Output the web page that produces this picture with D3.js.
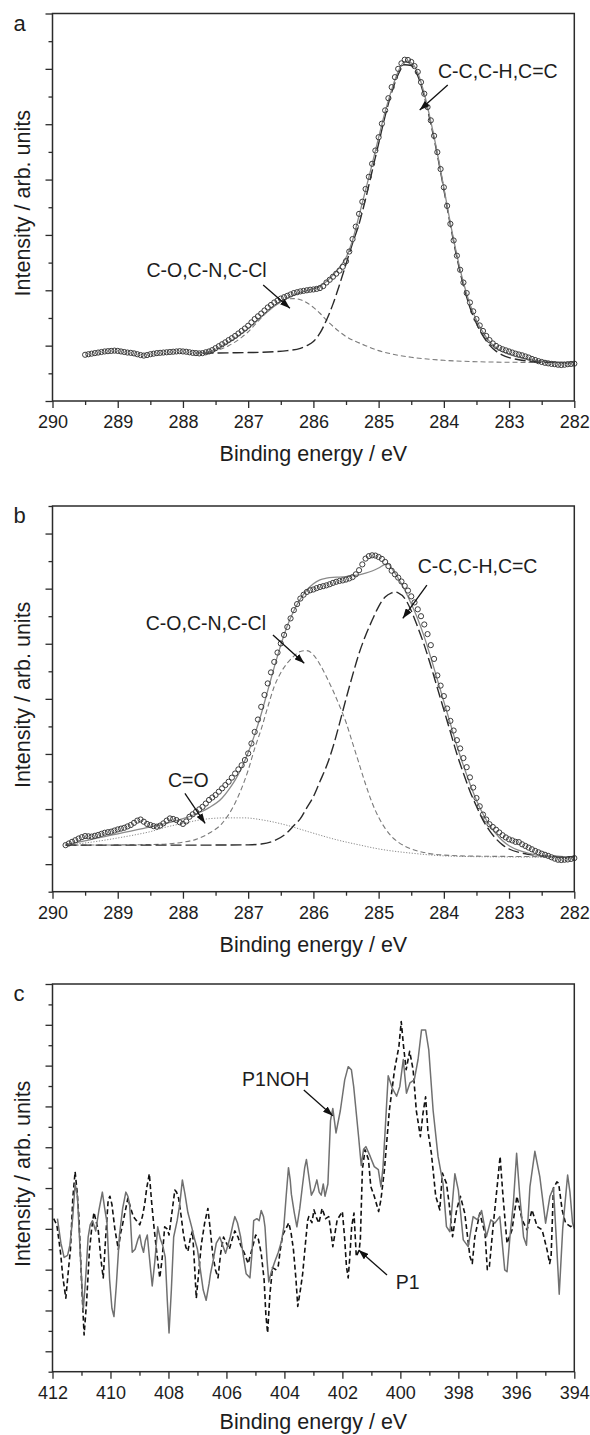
<!DOCTYPE html>
<html>
<head>
<meta charset="utf-8">
<script src="https://cdn.jsdelivr.net/npm/d3@7"></script>
<style>
  html, body { margin: 0; padding: 0; background: #fff; }
  svg { display: block; }
</style>
</head>
<body>
<svg id="fig" width="590" height="1435"></svg>
<script>
// ---------------- C 1s spectrum, sample a (measured points on a 0.05 eV grid) ----------------
const aScanStart = 289.5, aScanStep = 0.05;
const aScan = [
  1.67, 1.69, 1.71, 1.73, 1.75, 1.77, 1.79, 1.80, 1.81, 1.82,
  1.81, 1.79, 1.77, 1.75, 1.74, 1.72, 1.69, 1.66, 1.64, 1.66,
  1.69, 1.71, 1.73, 1.74, 1.75, 1.76, 1.77, 1.78, 1.79, 1.80,
  1.79, 1.78, 1.76, 1.74, 1.73, 1.72, 1.73, 1.76, 1.79, 1.84,
  1.91, 1.98, 2.05, 2.12, 2.20, 2.27, 2.35, 2.44, 2.53, 2.62,
  2.72, 2.84, 2.96, 3.06, 3.16, 3.27, 3.38, 3.47, 3.56, 3.63,
  3.70, 3.75, 3.80, 3.85, 3.90, 3.93, 3.96, 3.98, 4.00, 4.02,
  4.03, 4.05, 4.08, 4.15, 4.28, 4.38, 4.49, 4.60, 4.71, 4.85,
  5.05, 5.40, 5.85, 6.30, 6.76, 7.20, 7.66, 8.10, 8.57, 9.05,
  9.53, 10.02, 10.50, 10.94, 11.34, 11.70, 12.00, 12.20, 12.33, 12.32,
  12.25, 12.10, 11.89, 11.52, 11.10, 10.62, 10.14, 9.58, 8.99, 8.38,
  7.72, 7.05, 6.40, 5.80, 5.25, 4.74, 4.28, 3.90, 3.56, 3.24,
  2.96, 2.73, 2.53, 2.35, 2.20, 2.08, 1.99, 1.92, 1.87, 1.83,
  1.79, 1.75, 1.71, 1.68, 1.65, 1.61, 1.57, 1.52, 1.48, 1.44,
  1.41, 1.38, 1.36, 1.34, 1.33, 1.31, 1.30, 1.31, 1.33, 1.34,
  1.35
];
// fitted envelope and components, [binding energy, intensity]
const aEnvelope = [
  [287.7,1.73],[287.6,1.78],[287.5,1.87],[287.4,1.99],[287.3,2.12],[287.2,2.27],[287.1,2.44],[287.0,2.62],
  [286.9,2.82],[286.8,3.03],[286.7,3.23],[286.6,3.42],[286.5,3.58],[286.4,3.72],[286.3,3.83],[286.2,3.92],
  [286.1,3.99],[286.0,4.05],[285.9,4.15],[285.8,4.32],[285.7,4.55],[285.6,4.83],[285.5,5.18],[285.4,5.80],
  [285.3,6.70],[285.2,7.62],[285.1,8.55],[285.0,9.52],[284.9,10.45],[284.8,11.25],[284.7,11.90],[284.6,12.26],
  [284.5,12.22],[284.4,11.86],[284.3,11.10],[284.2,10.10],[284.1,8.96],[284.0,7.70],[283.9,6.43],[283.8,5.27],
  [283.7,4.28],[283.6,3.50],[283.5,2.92],[283.4,2.48],[283.3,2.15],[283.2,1.92],[283.1,1.78],[283.0,1.68],
  [282.8,1.55],[282.6,1.47],[282.4,1.42],[282.2,1.40],[282.0,1.39]
];
const aPeakCC = [
  [287.7,1.73],[287.3,1.74],[287.0,1.75],[286.6,1.78],[286.4,1.82],[286.2,1.90],[286.1,2.00],[286.0,2.15],
  [285.9,2.45],[285.8,2.92],[285.7,3.50],[285.6,4.20],[285.5,4.95],[285.4,5.70],[285.3,6.40],[285.2,7.30],
  [285.1,8.30],[285.0,9.30],[284.9,10.30],[284.8,11.15],[284.7,11.80],[284.6,12.15],[284.5,12.12],[284.4,11.75],
  [284.3,11.00],[284.2,10.02],[284.1,8.90],[284.0,7.64],[283.9,6.36],[283.8,5.18],[283.7,4.18],[283.6,3.38],
  [283.5,2.80],[283.4,2.35],[283.3,2.02],[283.2,1.80],[283.1,1.66],[283.0,1.57],[282.8,1.47],[282.6,1.42],
  [282.4,1.40],[282.2,1.39],[282.0,1.38]
];
const aPeakCO = [
  [287.8,1.73],[287.6,1.77],[287.5,1.82],[287.3,2.00],[287.1,2.30],[287.0,2.50],[286.9,2.75],[286.8,3.00],
  [286.7,3.25],[286.6,3.45],[286.5,3.60],[286.4,3.68],[286.3,3.70],[286.2,3.66],[286.1,3.55],[286.0,3.38],
  [285.9,3.17],[285.8,2.92],[285.7,2.70],[285.6,2.50],[285.5,2.33],[285.4,2.20],[285.3,2.10],[285.2,2.00],
  [285.0,1.82],[284.8,1.70],[284.5,1.58],[284.0,1.47],[283.5,1.42],[283.0,1.40],[282.0,1.39]
];

// ---------------- C 1s spectrum, sample b ----------------
const bScanStart = 289.8, bScanStep = 0.05;
const bScan = [
  1.69, 1.75, 1.81, 1.87, 1.93, 1.98, 2.02, 2.01, 2.00, 2.03,
  2.06, 2.10, 2.14, 2.16, 2.18, 2.22, 2.26, 2.29, 2.32, 2.37,
  2.42, 2.50, 2.58, 2.62, 2.54, 2.46, 2.42, 2.38, 2.36, 2.40,
  2.48, 2.58, 2.66, 2.64, 2.60, 2.52, 2.46, 2.55, 2.72, 2.81,
  2.90, 2.99, 3.08, 3.20, 3.33, 3.42, 3.51, 3.63, 3.75, 3.87,
  3.99, 4.14, 4.29, 4.44, 4.59, 4.78, 5.02, 5.38, 5.80, 6.25,
  6.71, 7.14, 7.56, 7.96, 8.34, 8.68, 9.01, 9.32, 9.61, 9.92,
  10.22, 10.44, 10.64, 10.78, 10.88, 10.94, 10.97, 11.02, 11.06, 11.09,
  11.12, 11.16, 11.21, 11.25, 11.28, 11.30, 11.33, 11.37, 11.42, 11.52,
  11.67, 11.88, 12.09, 12.18, 12.21, 12.20, 12.15, 12.08, 11.97, 11.82,
  11.65, 11.52, 11.40, 11.26, 11.10, 10.93, 10.72, 10.50, 10.25, 10.00,
  9.70, 9.35, 8.95, 8.45, 7.85, 7.48, 7.10, 6.65, 6.20, 5.85,
  5.50, 5.20, 4.85, 4.52, 4.15, 3.78, 3.40, 3.10, 2.80, 2.62,
  2.45, 2.35, 2.25, 2.15, 2.05, 1.97, 1.90, 1.86, 1.81, 1.80,
  1.72, 1.66, 1.60, 1.54, 1.48, 1.43, 1.38, 1.34, 1.30, 1.25,
  1.20, 1.16, 1.15, 1.16, 1.17, 1.19,
  1.22
];
const bEnvelope = [
  [289.8,1.72],[289.6,1.80],[289.4,1.90],[289.2,2.00],[289.0,2.10],[288.8,2.20],[288.6,2.30],[288.4,2.40],
  [288.2,2.52],[288.0,2.65],[287.8,2.82],[287.6,3.05],[287.4,3.40],[287.3,3.70],[287.2,4.05],[287.1,4.50],
  [287.0,5.05],[286.9,5.70],[286.8,6.45],[286.7,7.30],[286.6,8.15],[286.5,8.95],[286.4,9.65],[286.3,10.20],
  [286.2,10.62],[286.1,10.95],[286.0,11.18],[285.9,11.32],[285.8,11.38],[285.7,11.41],[285.6,11.42],[285.5,11.44],
  [285.4,11.47],[285.3,11.50],[285.2,11.56],[285.1,11.64],[285.0,11.75],[284.9,11.88],[284.85,11.90],[284.8,11.74],
  [284.7,11.38],[284.6,10.95],[284.5,10.45],[284.4,9.90],[284.3,9.25],[284.2,8.50],[284.1,7.70],[284.0,6.90],
  [283.9,6.10],[283.8,5.30],[283.7,4.58],[283.6,3.92],[283.5,3.32],[283.4,2.82],[283.3,2.42],[283.2,2.10],
  [283.1,1.85],[283.0,1.67],[282.8,1.46],[282.6,1.34],[282.4,1.28],[282.2,1.25],[282.0,1.24]
];
const bPeakCC = [
  [289.8,1.69],[288.0,1.69],[287.0,1.70],[286.8,1.73],[286.6,1.85],[286.4,2.15],[286.3,2.40],[286.2,2.65],
  [286.1,3.05],[286.0,3.45],[285.9,4.00],[285.8,4.55],[285.7,5.25],[285.6,6.10],[285.5,7.00],[285.4,7.85],
  [285.3,8.65],[285.2,9.30],[285.1,9.85],[285.0,10.35],[284.9,10.70],[284.8,10.85],[284.75,10.88],[284.7,10.85],
  [284.6,10.65],[284.5,10.20],[284.4,9.60],[284.3,8.95],[284.2,8.20],[284.1,7.40],[284.0,6.60],[283.9,5.80],
  [283.8,5.00],[283.7,4.30],[283.6,3.65],[283.5,3.10],[283.4,2.60],[283.3,2.22],[283.2,1.92],[283.1,1.70],
  [283.0,1.55],[282.8,1.40],[282.6,1.32],[282.4,1.29],[282.0,1.27]
];
const bPeakCO = [
  [289.8,1.69],[288.5,1.71],[288.2,1.74],[288.0,1.80],[287.8,1.90],[287.6,2.12],[287.4,2.48],[287.2,3.22],
  [287.0,4.41],[286.9,5.20],[286.8,5.90],[286.7,6.70],[286.6,7.45],[286.5,7.95],[286.4,8.30],[286.3,8.55],
  [286.2,8.72],[286.1,8.75],[286.0,8.60],[285.9,8.25],[285.8,7.80],[285.7,7.30],[285.6,6.75],[285.5,6.15],
  [285.4,5.40],[285.3,4.65],[285.2,3.90],[285.1,3.23],[285.0,2.70],[284.9,2.30],[284.8,2.00],[284.7,1.80],
  [284.5,1.55],[284.3,1.42],[284.0,1.33],[283.5,1.29],[282.0,1.27]
];
const bPeakCdO = [
  [289.8,1.69],[289.4,1.80],[289.0,1.95],[288.7,2.08],[288.5,2.18],[288.3,2.32],[288.0,2.48],[287.7,2.62],
  [287.35,2.68],[287.06,2.68],[286.77,2.60],[286.42,2.42],[286.08,2.18],[285.62,1.87],[285.3,1.70],[285.04,1.57],
  [284.46,1.39],[283.89,1.29],[283.0,1.26],[282.0,1.25]
];

// ---------------- N 1s spectra, panel c ----------------
const cP1NOH = [
  [411.83,7.5],[411.71,6.3],[411.6,5.6],[411.48,5.7],[411.4,6.2],[411.3,7.6],[411.22,9.2],[411.14,8.6],
  [411.05,6.0],[410.94,3.0],[410.86,4.5],[410.77,6.6],[410.7,7.2],[410.62,7.4],[410.51,6.9],[410.4,7.9],
  [410.28,8.8],[410.2,8.0],[410.12,7.3],[410.03,4.5],[409.95,3.1],[409.88,2.7],[409.8,4.2],[409.69,6.7],
  [409.58,8.0],[409.47,8.8],[409.4,8.6],[409.34,8.2],[409.25,5.85],[409.15,6.0],[409.05,6.5],[408.99,6.7],
  [408.93,6.2],[408.86,5.85],[408.8,6.4],[408.73,6.7],[408.65,5.5],[408.56,4.2],[408.47,5.4],[408.37,7.1],
  [408.28,6.5],[408.2,6.2],[408.11,5.6],[408.04,3.5],[407.98,1.9],[407.9,4.0],[407.82,6.6],[407.7,7.4],
  [407.61,8.2],[407.52,9.4],[407.43,8.7],[407.33,7.8],[407.2,7.1],[407.1,6.5],[407.0,6.0],[406.9,5.0],
  [406.8,4.0],[406.7,3.5],[406.6,4.3],[406.55,4.8],[406.45,5.5],[406.35,6.3],[406.23,6.6],[406.13,6.2],
  [406.03,5.8],[405.95,6.2],[405.87,6.6],[405.78,7.2],[405.71,7.6],[405.62,7.3],[405.51,6.6],[405.42,5.7],
  [405.32,4.8],[405.19,4.6],[405.12,5.8],[405.06,7.4],[404.95,7.5],[404.87,7.4],[404.8,7.9],[404.72,7.6],
  [404.67,7.1],[404.6,5.5],[404.54,4.4],[404.45,4.9],[404.33,5.4],[404.21,5.85],[404.1,6.4],[404.02,7.1],
  [403.94,8.6],[403.86,10.0],[403.8,9.4],[403.76,8.7],[403.66,7.8],[403.57,7.1],[403.47,8.0],[403.37,9.2],
  [403.3,10.0],[403.24,10.4],[403.16,9.6],[403.07,8.65],[402.98,8.9],[402.88,9.4],[402.8,8.8],[402.73,8.65],
  [402.66,9.2],[402.6,8.6],[402.5,9.2],[402.41,12.3],[402.33,12.9],[402.22,11.7],[402.07,12.8],[401.92,14.3],
  [401.8,14.95],[401.69,14.8],[401.61,13.97],[401.44,11.5],[401.35,10.1],[401.27,10.9],[401.19,11.03],[401.04,10.55],
  [400.9,10.05],[400.76,9.9],[400.67,9.07],[400.6,10.0],[400.53,11.7],[400.42,14.5],[400.28,13.9],[400.13,13.5],
  [400.02,13.97],[399.9,15.3],[399.79,13.65],[399.67,14.15],[399.52,14.3],[399.39,15.3],[399.27,16.75],[399.13,16.75],
  [399.02,15.77],[398.87,12.8],[398.7,10.55],[398.53,9.23],[398.41,7.11],[398.29,6.86],[398.12,9.7],[398.0,8.9],
  [397.83,6.46],[397.66,6.13],[397.49,7.6],[397.34,7.44],[397.2,7.9],[397.03,6.62],[396.88,7.44],[396.74,7.28],
  [396.57,7.6],[396.4,4.99],[396.32,4.9],[396.22,6.62],[396.1,8.3],[395.99,10.7],[395.88,8.6],[395.75,6.6],
  [395.65,6.2],[395.53,9.07],[395.36,10.8],[395.19,9.56],[394.99,7.28],[394.84,8.6],[394.72,9.0],[394.62,6.5],
  [394.52,3.8],[394.4,7.0],[394.32,8.26],[394.23,9.64],[394.15,8.8],[394.06,7.3],[394.0,7.0]
];
const cP1 = [
  [411.96,7.5],[411.85,7.2],[411.72,5.8],[411.64,4.6],[411.54,3.6],[411.45,5.0],[411.38,6.0],[411.3,8.5],
  [411.22,9.8],[411.15,8.8],[411.09,7.6],[411.0,4.5],[410.91,1.8],[410.82,3.5],[410.73,5.85],[410.65,7.0],
  [410.57,7.8],[410.5,7.4],[410.42,6.9],[410.33,5.5],[410.25,4.6],[410.17,6.5],[410.08,8.4],[410.02,8.6],
  [409.95,8.2],[409.85,7.0],[409.73,6.0],[409.65,6.8],[409.6,7.1],[409.5,7.8],[409.4,8.5],[409.3,8.0],
  [409.21,7.6],[409.1,7.4],[408.99,7.2],[408.9,7.6],[408.82,8.2],[408.75,9.0],[408.66,9.7],[408.58,8.3],
  [408.5,7.1],[408.4,5.8],[408.3,4.6],[408.22,5.5],[408.13,7.1],[408.05,7.0],[407.98,6.7],[407.88,7.8],
  [407.78,8.9],[407.72,8.8],[407.65,8.5],[407.56,7.6],[407.48,6.7],[407.4,6.1],[407.33,5.9],[407.25,6.5],
  [407.17,6.9],[407.1,5.2],[407.04,3.6],[406.96,4.8],[406.87,6.2],[406.75,7.3],[406.64,8.0],[406.56,7.0],
  [406.48,5.85],[406.38,5.0],[406.29,4.6],[406.2,5.8],[406.1,6.6],[406.0,6.3],[405.9,6.0],[405.8,6.5],
  [405.71,6.9],[405.6,6.6],[405.51,6.2],[405.38,5.8],[405.25,5.3],[405.12,6.0],[404.99,6.7],[404.9,6.5],
  [404.8,5.8],[404.7,4.5],[404.64,2.8],[404.58,1.9],[404.5,3.8],[404.41,5.1],[404.3,5.0],[404.21,5.2],
  [404.14,6.0],[404.06,6.7],[403.95,7.0],[403.85,7.3],[403.77,6.8],[403.69,6.0],[403.6,4.5],[403.54,3.2],
  [403.45,4.0],[403.37,4.8],[403.28,6.2],[403.2,7.4],[403.16,7.6],[403.05,7.3],[402.98,7.93],[402.88,7.5],
  [402.81,7.28],[402.7,8.0],[402.58,7.5],[402.47,7.6],[402.4,6.9],[402.33,6.13],[402.18,7.44],[402.0,7.85],
  [401.92,6.5],[401.86,5.15],[401.8,4.6],[401.75,5.5],[401.68,7.11],[401.6,7.77],[401.52,5.64],[401.42,5.97],
  [401.38,6.5],[401.31,9.9],[401.22,10.88],[401.1,10.4],[401.02,9.07],[400.9,8.6],[400.75,7.85],[400.67,8.43],
  [400.55,9.9],[400.38,12.8],[400.2,14.8],[400.05,15.94],[399.97,17.16],[399.89,15.94],[399.8,14.8],[399.68,15.7],
  [399.56,14.8],[399.45,12.8],[399.31,11.52],[399.22,12.66],[399.13,13.47],[399.05,11.8],[398.93,10.7],[398.78,8.6],
  [398.64,7.93],[398.55,9.73],[398.41,9.23],[398.32,8.26],[398.2,6.62],[398.06,7.93],[397.93,8.6],[397.78,7.77],
  [397.6,5.64],[397.52,5.3],[397.43,6.62],[397.26,7.77],[397.08,6.78],[397.0,5.0],[396.93,5.15],[396.79,7.28],
  [396.65,9.23],[396.56,10.55],[396.46,8.6],[396.32,6.29],[396.15,6.95],[395.98,8.6],[395.8,7.44],[395.63,6.95],
  [395.46,7.93],[395.28,7.11],[395.11,6.95],[394.94,5.97],[394.85,5.3],[394.8,5.64],[394.72,9.0],[394.6,9.3],
  [394.54,9.23],[394.42,7.93],[394.3,7.28],[394.13,7.11],[394.0,7.2]
];

// ---------------- axis ticks and annotations ----------------
const cTicksMajor = [412, 410, 408, 406, 404, 402, 400, 398, 396, 394];
const cTicksMinor = [411, 409, 407, 405, 403, 401, 399, 397, 395];
const ccTicksMajor = [290, 289, 288, 287, 286, 285, 284, 283, 282];
const ccTicksMinor = [289.5, 288.5, 287.5, 286.5, 285.5, 284.5, 283.5, 282.5];
const xTitle = "Binding energy / eV";
const yTitle = "Intensity / arb. units";

// label text, anchor [eV, intensity], arrow tail and tip [eV, intensity]
const aNotes = [
  { text: "C-C,C-H,C=C", at: [284.09, 11.67], from: [283.94, 11.42], to: [284.37, 10.51] },
  { text: "C-O,C-N,C-Cl", at: [288.56, 4.49], from: [286.77, 4.19], to: [286.36, 3.35] }
];
const bNotes = [
  { text: "C-C,C-H,C=C", at: [284.40, 11.57], from: [284.26, 11.13], to: [284.63, 9.92] },
  { text: "C-O,C-N,C-Cl", at: [288.57, 9.50], from: [286.62, 9.32], to: [286.14, 8.29] },
  { text: "C=O", at: [288.23, 3.81], from: [287.97, 3.57], to: [287.66, 2.48] }
];
const cNotes = [
  { text: "P1NOH", at: [405.46, 14.0], from: [403.33, 13.8], to: [402.33, 12.54] },
  { text: "P1", at: [400.16, 4.05], from: [400.46, 4.74], to: [401.44, 5.96] }
];

// ---------------- drawing ----------------
const FONT = "'Liberation Sans', Arial, Helvetica, sans-serif";
const INK = "#1d1d1d";
const svg = d3.select("#fig");
const plotLeft = 52.5, plotRight = 574.3;

svg.append("defs").append("marker")
  .attr("id", "arrowhead")
  .attr("viewBox", "0 0 10 7")
  .attr("refX", 10).attr("refY", 3.5)
  .attr("markerWidth", 10).attr("markerHeight", 7)
  .attr("markerUnits", "userSpaceOnUse")
  .attr("orient", "auto")
  .append("path").attr("d", "M0,0 L10,3.5 L0,7 Z").attr("fill", "#111");

function drawPanel(p) {
  const g = svg.append("g");
  const x = d3.scaleLinear().domain(p.xDomain).range([plotLeft, plotRight]);
  const y = d3.scaleLinear().domain([0, p.yMax]).range([p.bottom, p.top]);

  // curves
  const smooth = d3.line().x(d => x(d[0])).y(d => y(d[1])).curve(d3.curveMonotoneX);
  const jagged = d3.line().x(d => x(d[0])).y(d => y(d[1]));
  const plot = g.append("g");
  p.series.forEach(s => {
    plot.append("path")
      .attr("d", (s.smooth ? smooth : jagged)(s.data))
      .attr("fill", "none")
      .attr("stroke", s.color)
      .attr("stroke-width", s.width)
      .attr("stroke-dasharray", s.dash || null)
      .attr("stroke-linejoin", "round");
  });
  if (p.scatter) {
    plot.selectAll("circle").data(p.scatter).join("circle")
      .attr("cx", d => x(d[0])).attr("cy", d => y(d[1]))
      .attr("r", 2.6)
      .attr("fill", "none")
      .attr("stroke", "#3c3c3c")
      .attr("stroke-width", 1.0);
  }

  // frame
  g.append("rect")
    .attr("x", plotLeft).attr("y", p.top)
    .attr("width", plotRight - plotLeft).attr("height", p.bottom - p.top)
    .attr("fill", "none").attr("stroke", "#2b2b2b").attr("stroke-width", 1.5);

  // x axis
  const xMaj = g.append("g").attr("transform", `translate(0,${p.bottom})`)
    .call(d3.axisBottom(x).tickValues(p.xMajor).tickSize(7).tickPadding(7.7).tickFormat(d3.format("d")));
  const xMin = g.append("g").attr("transform", `translate(0,${p.bottom})`)
    .call(d3.axisBottom(x).tickValues(p.xMinor).tickSize(4).tickFormat(""));
  // y axis (no labels)
  const yVals = d3.range(0, p.yMax + 1);
  const yMaj = g.append("g").attr("transform", `translate(${plotLeft},0)`)
    .call(d3.axisLeft(y).tickValues(yVals.filter(v => v % 2 === p.yMajorParity)).tickSize(7).tickFormat(""));
  const yMin = g.append("g").attr("transform", `translate(${plotLeft},0)`)
    .call(d3.axisLeft(y).tickValues(yVals.filter(v => v % 2 !== p.yMajorParity)).tickSize(4).tickFormat(""));
  [xMaj, xMin, yMaj, yMin].forEach(a => {
    a.select(".domain").remove();
    a.selectAll(".tick line").attr("stroke", "#2b2b2b").attr("stroke-width", 1.3);
  });
  xMaj.selectAll(".tick text")
    .attr("font-family", FONT).attr("font-size", 18).attr("fill", INK);

  // titles
  g.append("text")
    .attr("x", (plotLeft + plotRight) / 2).attr("y", p.bottom + p.titleGap)
    .attr("text-anchor", "middle")
    .attr("font-family", FONT).attr("font-size", 21.5).attr("fill", INK)
    .text(xTitle);
  g.append("text")
    .attr("transform", `translate(30,${(p.top + p.bottom) / 2 - 4}) rotate(-90)`)
    .attr("text-anchor", "middle")
    .attr("font-family", FONT).attr("font-size", 21.5).attr("fill", INK)
    .text(yTitle);
  g.append("text")
    .attr("x", 13.5).attr("y", p.top + 17)
    .attr("font-family", FONT).attr("font-size", 22).attr("fill", INK)
    .text(p.letter);

  // annotations
  p.notes.forEach(n => {
    g.append("text")
      .attr("x", x(n.at[0])).attr("y", y(n.at[1]))
      .attr("font-family", FONT).attr("font-size", 19.5).attr("fill", INK)
      .text(n.text);
    g.append("line")
      .attr("x1", x(n.from[0])).attr("y1", y(n.from[1]))
      .attr("x2", x(n.to[0])).attr("y2", y(n.to[1]))
      .attr("stroke", "#111").attr("stroke-width", 1.3)
      .attr("marker-end", "url(#arrowhead)");
  });
}

const scanPoints = (start, step, vals) => vals.map((v, i) => [start - i * step, v]);

drawPanel({
  letter: "a", top: 13.5, bottom: 401, yMax: 14, yMajorParity: 0, titleGap: 60,
  xDomain: [290, 282], xMajor: ccTicksMajor, xMinor: ccTicksMinor,
  series: [
    { data: aPeakCO, smooth: true, color: "#7a7a7a", width: 1.1, dash: "5,3" },
    { data: aPeakCC, smooth: true, color: "#2a2a2a", width: 1.4, dash: "11,4" },
    { data: aEnvelope, smooth: true, color: "#8a8a8a", width: 1.3 }
  ],
  scatter: scanPoints(aScanStart, aScanStep, aScan),
  notes: aNotes
});

drawPanel({
  letter: "b", top: 506, bottom: 891.7, yMax: 14, yMajorParity: 1, titleGap: 60,
  xDomain: [290, 282], xMajor: ccTicksMajor, xMinor: ccTicksMinor,
  series: [
    { data: bPeakCdO, smooth: true, color: "#8a8a8a", width: 1.0, dash: "1.2,1.6" },
    { data: bPeakCO, smooth: true, color: "#7a7a7a", width: 1.1, dash: "5,3" },
    { data: bPeakCC, smooth: true, color: "#2a2a2a", width: 1.4, dash: "11,4" },
    { data: bEnvelope, smooth: true, color: "#8a8a8a", width: 1.3 }
  ],
  scatter: scanPoints(bScanStart, bScanStep, bScan),
  notes: bNotes
});

drawPanel({
  letter: "c", top: 984, bottom: 1371.7, yMax: 19, yMajorParity: 1, titleGap: 57,
  xDomain: [412, 394], xMajor: cTicksMajor, xMinor: cTicksMinor,
  series: [
    { data: cP1, smooth: false, color: "#111", width: 1.6, dash: "5,3" },
    { data: cP1NOH, smooth: false, color: "#707070", width: 1.5 }
  ],
  notes: cNotes
});
</script>
</body>
</html>
